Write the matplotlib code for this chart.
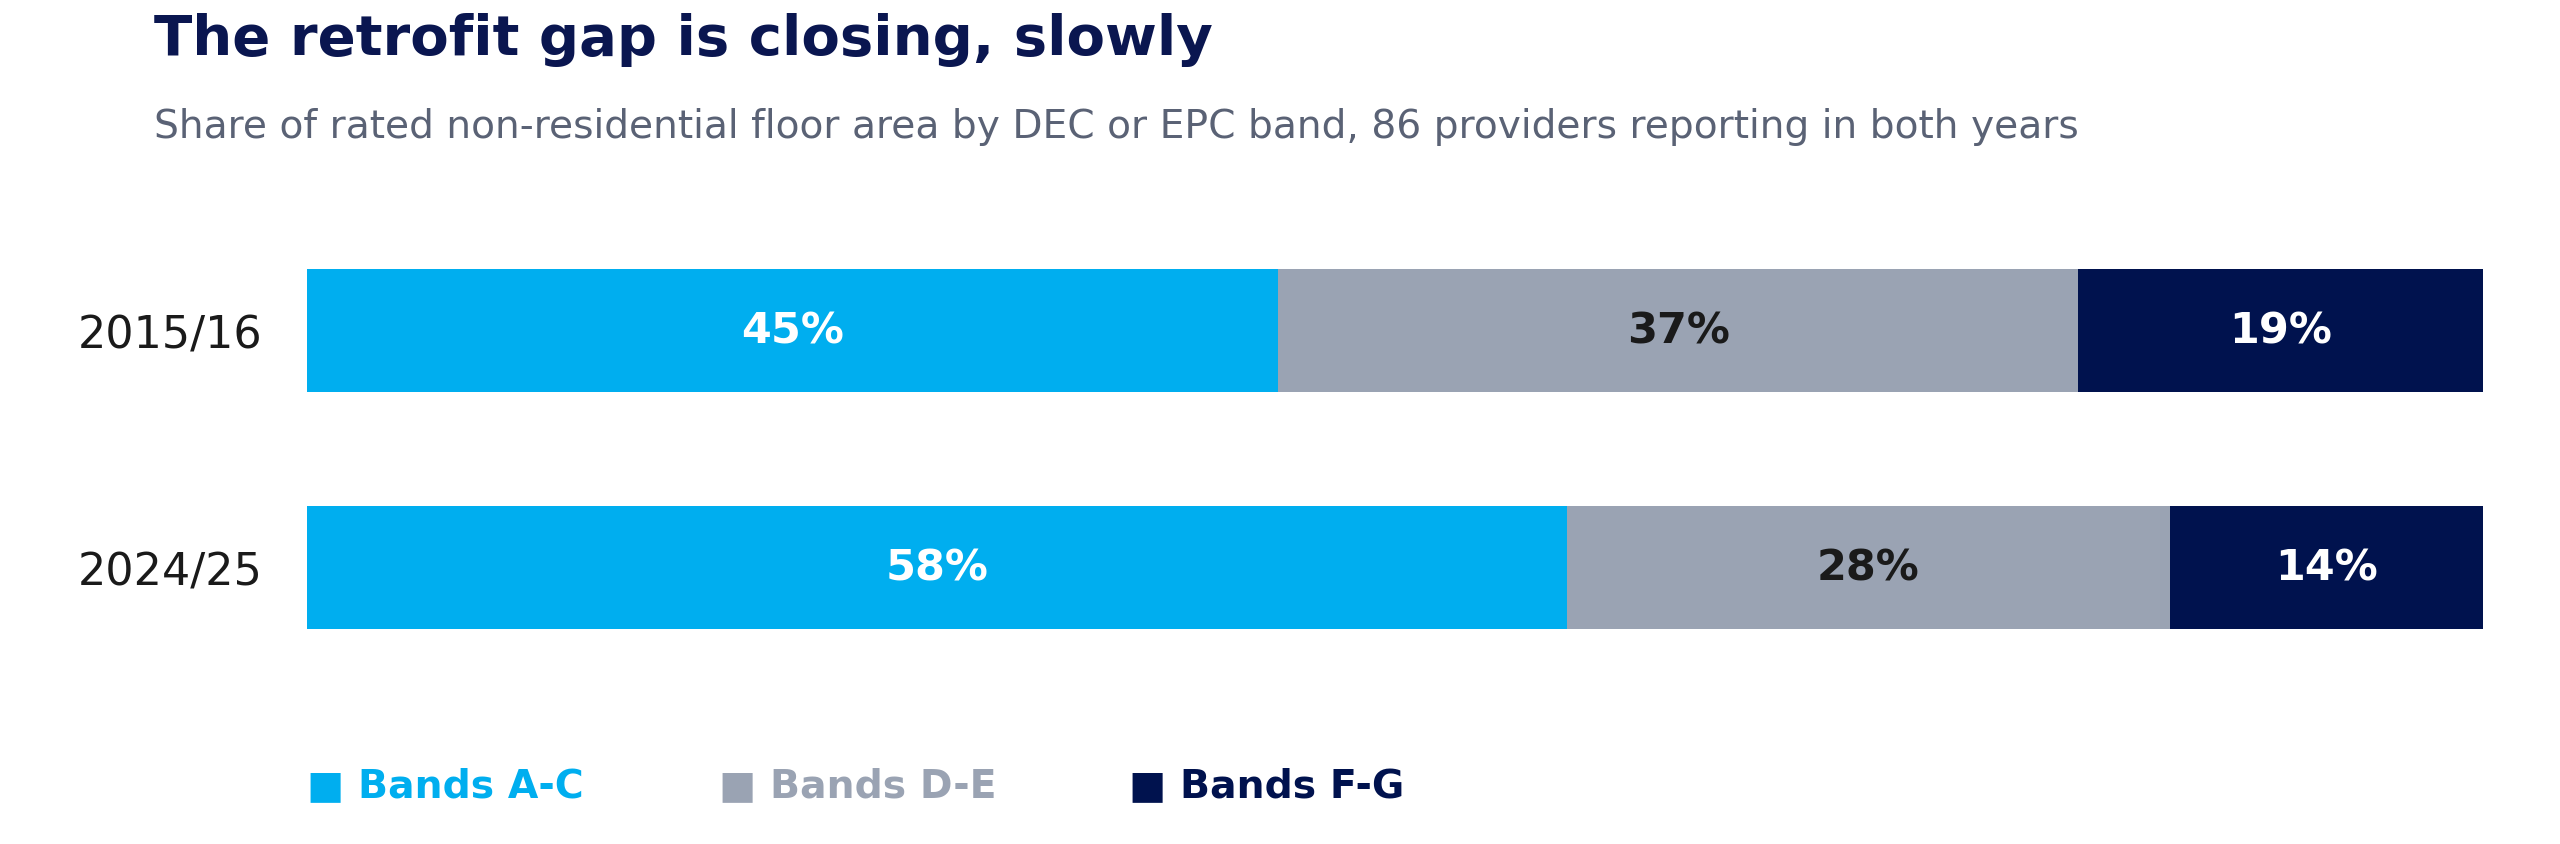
import matplotlib.pyplot as plt

# data
years = ["2015/16", "2024/25"]
bands = ["Bands A-C", "Bands D-E", "Bands F-G"]
band_a_c = [44.6, 57.9]
band_d_e = [36.8, 27.7]
band_f_g = [18.6, 14.4]

colors = ["#00AEEF", "#9AA3B3", "#00124E"]
label_colors = ["white", "#1A1A1A", "white"]

plt.rcParams['font.family'] = ['DejaVu Sans']

fig = plt.figure(figsize=(12.8, 4.225), dpi=200)
ax = fig.add_axes([0.12, 0.1870, 0.85, 0.5609])

series = [band_a_c, band_d_e, band_f_g]
left = [0.0] * len(years)
ypos = list(range(len(years)))
for vals, col, lcol in zip(series, colors, label_colors):
    ax.barh(ypos, vals, left=left, height=0.515, color=col, edgecolor="none")
    for y, v, l in zip(ypos, vals, left):
        ax.text(l + v / 2, y, f"{v:.0f}%", ha="center", va="center",
                color=lcol, fontsize=15.5, fontweight="bold")
    left = [a + b for a, b in zip(left, vals)]

ax.set_xlim(0, 100)
ax.set_ylim(1.5, -0.5)
ax.set_yticks(ypos)
ax.set_yticklabels(years, fontsize=16, color="#1A1A1A")
ax.tick_params(axis="y", length=0, pad=16)
ax.set_xticks([])
for s in ax.spines.values():
    s.set_visible(False)

fig.text(0.06, 0.935, "The retrofit gap is closing, slowly", fontsize=20.2,
         fontweight="bold", color="#0A1650", va="baseline")
fig.text(0.06, 0.837, "Share of rated non-residential floor area by DEC or EPC band, "
         "86 providers reporting in both years", fontsize=14.1, color="#5A6275",
         va="baseline")

leg_x = [0.12, 0.281, 0.441]
for x, name, col in zip(leg_x, bands, colors):
    fig.text(x, 0.07, "\u25A0 " + name, fontsize=14.2, fontweight="bold",
             color=col, va="center")

fig.savefig("out.png", dpi=200)
